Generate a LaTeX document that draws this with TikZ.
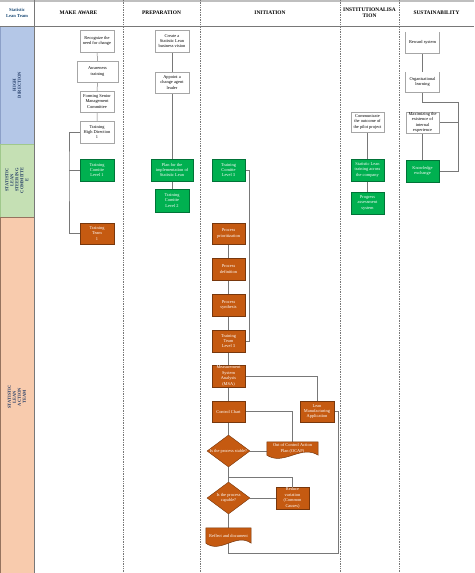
\documentclass[tikz,border=0pt]{standalone}
\usepackage{fontspec}
\setmainfont{Liberation Serif}
\usetikzlibrary{shapes.geometric,shadows,backgrounds}
\definecolor{dirblue}{RGB}{180,199,231}
\definecolor{dirblueline}{RGB}{140,160,200}
\definecolor{steergreen}{RGB}{197,224,180}
\definecolor{steergreenline}{RGB}{160,200,140}
\definecolor{actorange}{RGB}{248,203,173}
\definecolor{actorangeline}{RGB}{150,115,95}
\definecolor{comgreen}{RGB}{0,176,80}
\definecolor{comgreenline}{RGB}{0,115,55}
\definecolor{teamorange}{RGB}{197,90,17}
\definecolor{teamorangeline}{RGB}{120,55,12}
\definecolor{lanenavy}{RGB}{31,56,100}
\definecolor{teamteal}{RGB}{31,78,121}
\definecolor{rulegray}{RGB}{120,120,120}
\newcommand\boxfont{\fontsize{4.4}{5.4}\selectfont}
\newcommand\headfont{\fontsize{5.4}{6}\selectfont\bfseries}
\newcommand\docback[2]{\fill[teamorange, draw=teamorangeline, line width=0.5pt] (#1.north west) -- (#1.south west) .. controls +(#2,11) and +(-#2,-11) .. (#1.south east) -- (#1.north east) -- cycle;}
\tikzset{
  whitebox/.style={draw=gray!70, fill=white, align=center, font=\boxfont, inner sep=0pt,
    minimum width=33pt, minimum height=21pt,
    drop shadow={shadow xshift=0.8pt, shadow yshift=-0.8pt, fill=gray!85, opacity=1}},
  opentop/.style={align=center, font=\boxfont, inner sep=0pt, minimum width=33pt, minimum height=21pt},
  greenbox/.style={draw=comgreenline, fill=comgreen, text=white, align=center, font=\boxfont,
    inner sep=0pt, minimum width=33pt, minimum height=22pt},
  orangebox/.style={draw=teamorangeline, fill=teamorange, text=white, align=center, font=\boxfont,
    inner sep=0pt, minimum width=33pt, minimum height=22pt},
  decision/.style={diamond, draw=teamorangeline, fill=teamorange, minimum width=43pt, minimum height=32pt,
    inner sep=0pt, label={[text=white, font=\boxfont, align=center]center:{#1}}},
  docnode/.style={text=white, align=center, font=\boxfont, inner sep=0pt},
  link/.style={draw=rulegray, line width=0.5pt},
  lane/.style={font=\fontsize{4.5}{5}\selectfont\bfseries, text=lanenavy, align=center, rotate=90},
}
\begin{document}
\begin{tikzpicture}[x=1pt, y=-1pt]
\useasboundingbox (0,0) rectangle (474,573);
% lanes and columns
\fill[dirblue, draw=dirblueline] (0,26) rectangle (34,144);
\fill[steergreen, draw=steergreenline] (0,144) rectangle (34,217);
\fill[actorange, draw=actorangeline] (0,217) rectangle (34,573);
\draw[gray!50, line width=1.5pt] (0,0.75) -- (474,0.75);
\foreach \xx in {123,200,340,399}
  \draw[rulegray, densely dotted, line width=0.7pt] (\xx,0) -- (\xx,573);
\draw[rulegray, line width=0.7pt] (34,0) -- (34,573);
\draw[rulegray, line width=0.8pt] (0,26) -- (474,26);

\node[font=\fontsize{4.6}{5.4}\selectfont\bfseries, text=teamteal, align=center] (hteam) at (17,13) {Statistic\\ Lean Team};
\node[font=\headfont] (hmake) at (78.5,13) {MAKE AWARE};
\node[font=\headfont] (hprep) at (161.5,13) {PREPARATION};
\node[font=\headfont] (hinit) at (270,13) {INITIATION};
\node[font=\headfont, align=center] (hinst) at (369.5,13) {INSTITUTIONALISA\\ TION};
\node[font=\headfont] (hsust) at (436.5,13) {SUSTAINABILITY};

\node[lane] (ldir) at (17,85) {HIGH\\ DIRECTION};
\node[lane] (lsteer) at (17,180) {STATISTIC\\ LEAN\\ STEERING\\ COMMITTE\\ E};
\node[lane] (laction) at (17,397) {STATISTIC\\ LEAN\\ ACTION\\ TEAM};

% make aware
\node[whitebox, minimum width=34pt, minimum height=22pt] (recognize) at (97,41) {Recognize the\\ need for change};
\node[whitebox, minimum width=41pt] (awareness) at (97.5,71.5) {Awareness\\ training};
\node[whitebox, minimum width=34pt] (forming) at (97,101.5) {Forming Senior\\ Management\\ Committee};
\node[whitebox, minimum width=34pt, minimum height=22pt] (highdir) at (97,132) {Training\\ High Direction\\ 1};
\node[greenbox, minimum width=34pt] (comite1) at (97,170) {Training\\ Comitte\\ Level 1};
\node[orangebox, minimum width=34pt, minimum height=21pt] (team1) at (97,233.5) {Training\\ Team\\ 1};
\coordinate (bend1) at (69,170);

% preparation
\node[whitebox, minimum width=34pt, minimum height=22pt] (vision) at (172,41) {Create a\\ Statistic Lean\\ business vision};
\node[whitebox, minimum width=34pt] (agent) at (172,82.5) {Appoint a\\ change agent\\ leader};
\node[greenbox, minimum width=42pt] (plan) at (172,170) {Plan for the\\ implementation of\\ Statistic Lean};
\node[greenbox, minimum width=34pt, minimum height=23pt] (comite2) at (172,200.5) {Training\\ Comitte\\ Level 2};

% initiation
\node[greenbox] (comite3) at (228.5,170) {Training\\ Comitte\\ Level 3};
\node[orangebox, minimum height=21pt] (prio) at (228.5,233.5) {Process\\ prioritization};
\node[orangebox] (definition) at (228.5,269) {Process\\ definition};
\node[orangebox] (synthesis) at (228.5,305) {Process\\ synthesis};
\node[orangebox] (team3) at (228.5,341) {Training\\ Team\\ Level 3};
\node[orangebox] (msa) at (228.5,376) {Measurement\\ System\\ Analysis\\ (MSA)};
\node[orangebox, minimum height=21pt] (chart) at (228.5,411.5) {Control Chart};
\node[orangebox, minimum width=34pt, minimum height=21pt] (lean) at (317,411.5) {Lean\\ Manufacturing\\ Application};
\node[decision={Is the process stable?}] (stable) at (228.5,451) {};
\node[docnode, minimum width=51pt, minimum height=13pt] (ocap) at (292.5,448.5) {Out of Control Action\\ Plan (OCAP)};
\node[decision={Is the process\\ capable?}] (capable) at (228.5,498) {};
\node[orangebox] (reduce) at (292.5,498) {Reduce\\ variation\\ (Common\\ Causes)};
\node[docnode, minimum width=45pt, minimum height=15pt] (reflect) at (228.5,535.5) {Reflect and document};
\coordinate (split2) at (228.5,477);
\coordinate (loopend) at (338,553);

% institutionalisation
\node[whitebox, minimum height=20pt] (communicate) at (367.5,122) {Communicate\\ the outcome of\\ the pilot project};
\node[greenbox] (across) at (367.5,170) {Statistic Lean\\ training across\\ the company};
\node[greenbox] (assessment) at (367.5,203) {Progress\\ assessment\\ system};

% sustainability
\node[opentop] (reward) at (422.5,42.5) {Reward system};
\node[opentop, minimum height=20pt] (orglearn) at (422.5,82) {Organisational\\ learning};
\node[whitebox] (maxim) at (422.5,122.5) {Maximizing the\\ existence of\\ internal\\ experience};
\node[greenbox] (knowledge) at (422.5,171) {Knowledge\\ exchange};
\coordinate (sustbend) at (458,102);
\foreach \n in {reward,orglearn}
  \draw[gray!70, line width=0.8pt] (\n.north west) -- (\n.south west) -- (\n.south east) -- (\n.north east);

\begin{scope}[on background layer]
\draw[link] (recognize) -- (awareness) -- (forming) -- (highdir);
\draw[link] (highdir.west) -| (bend1) |- (team1.west);
\draw[link] (bend1) -- (comite1.west);
\draw[link] (vision) -- (agent) -- (plan) -- (comite2);
\draw[link] (comite3.east) -- ++(4,0) |- (team3.east);
\draw[link] (prio) -- (definition) -- (synthesis) -- (team3) -- (msa) -- (chart) -- (stable) -- (capable) -- (reflect);
\draw[link] (msa.east) -| (lean.north);
\draw[link] (chart.east) -| (ocap.north);
\draw[link] (stable.east) -- (stable.east -| ocap.west);
\draw[link] (split2) -| (reduce.north);
\draw[link] (capable.east) -- (reduce.west);
\draw[link] (reflect.south) |- (loopend) |- (lean.east);
\draw[link] (communicate) -- (across) -- (assessment);
\draw[link] (reward) -- (orglearn);
\draw[link] (orglearn.south) |- (sustbend) |- (knowledge.east);
\draw[link] (maxim.east) -- (maxim.east -| sustbend);
\draw[link] (maxim) -- (knowledge);
\docback{ocap}{17}
\docback{reflect}{15}
\end{scope}
\end{tikzpicture}
\end{document}
